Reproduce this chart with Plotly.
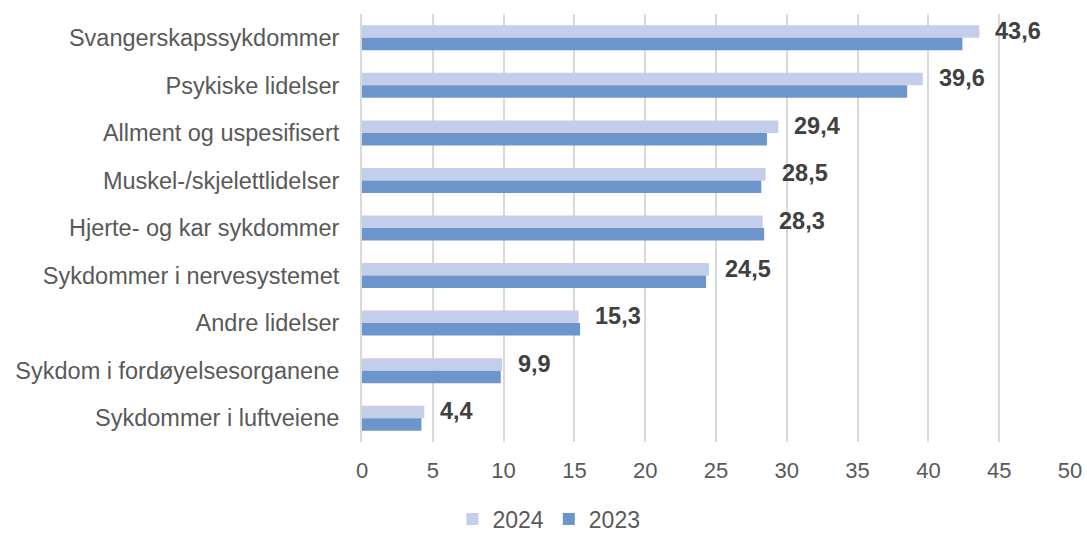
import plotly.graph_objects as go

categories = [
    "Svangerskapssykdommer",
    "Psykiske lidelser",
    "Allment og uspesifisert",
    "Muskel-/skjelettlidelser",
    "Hjerte- og kar sykdommer",
    "Sykdommer i nervesystemet",
    "Andre lidelser",
    "Sykdom i fordøyelsesorganene",
    "Sykdommer i luftveiene",
]
values_2024 = [43.6, 39.6, 29.4, 28.5, 28.3, 24.5, 15.3, 9.9, 4.4]
values_2023 = [42.4, 38.5, 28.6, 28.2, 28.4, 24.3, 15.4, 9.8, 4.2]
x_ticks = [0, 5, 10, 15, 20, 25, 30, 35, 40, 45, 50]

FONT = "Liberation Sans, Arial, sans-serif"
COLOR_2024 = "#C4CDEA"
COLOR_2023 = "#6C95CB"

fig = go.Figure()
fig.add_trace(go.Bar(
    name="2024", y=categories, x=values_2024, orientation="h",
    marker=dict(color=COLOR_2024, line=dict(width=0)),
))
fig.add_trace(go.Bar(
    name="2023", y=categories, x=values_2023, orientation="h",
    marker=dict(color=COLOR_2023, line=dict(width=0)),
))

# Value labels for 2024, placed beside the upper bar of each pair
for cat, v in zip(categories, values_2024):
    fig.add_annotation(
        x=v, y=cat, xref="x", yref="y",
        text=f"<b>{v:.1f}".replace(".", ",") + "</b>",
        showarrow=False, xanchor="left", yanchor="middle",
        xshift=14, yshift=7,
        font=dict(family=FONT, size=23.5, color="#404040"),
    )

fig.update_layout(
    width=1087, height=534,
    margin=dict(l=362, r=17, t=14, b=92, autoexpand=False),
    paper_bgcolor="white", plot_bgcolor="white",
    barmode="group", bargap=0.474, bargroupgap=0,
    font=dict(family=FONT, size=22, color="#595959"),
    showlegend=True,
    legend=dict(
        orientation="h", xref="container", yref="container",
        x=0.505, xanchor="center", y=0.028, yanchor="middle",
        font=dict(family=FONT, size=23, color="#595959"),
        itemwidth=30, traceorder="normal",
    ),
)
fig.update_xaxes(
    range=[0, 50], tickvals=x_ticks, ticks="",
    showgrid=True, gridcolor="#D9D9D9", gridwidth=2,
    zeroline=False, showline=False, automargin=False,
    tickfont=dict(family=FONT, size=22, color="#595959"),
    ticklabelstandoff=13,
)
fig.update_yaxes(
    autorange="reversed", ticks="", showgrid=False,
    showline=True, linecolor="#D9D9D9", linewidth=2, automargin=False,
    tickfont=dict(family=FONT, size=23.5, color="#595959"),
    ticklabelstandoff=16,
)

fig.write_html("out.html")
